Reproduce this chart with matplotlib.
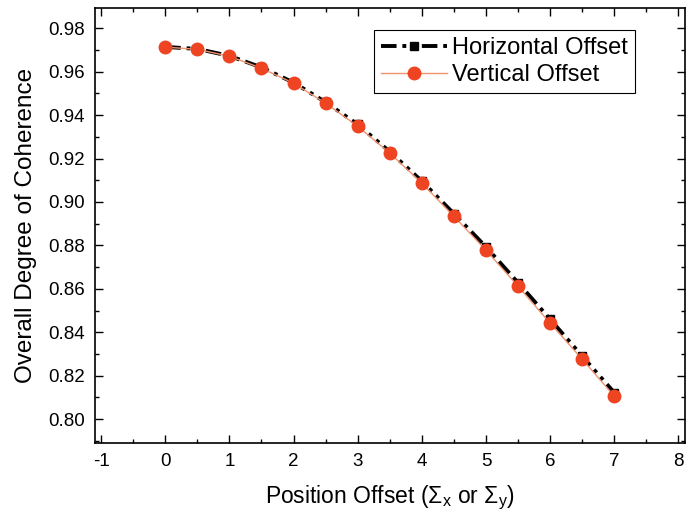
import matplotlib
matplotlib.use("Agg")
import matplotlib.pyplot as plt
from matplotlib.ticker import MultipleLocator

plt.rcParams['font.family'] = ['Liberation Sans', 'DejaVu Sans']
plt.rcParams['mathtext.fontset'] = 'custom'
plt.rcParams['mathtext.rm'] = 'Liberation Sans'
plt.rcParams['mathtext.it'] = 'Liberation Sans'
plt.rcParams['axes.unicode_minus'] = False

offset = [0, 0.5, 1, 1.5, 2, 2.5, 3, 3.5, 4, 4.5, 5, 5.5, 6, 6.5, 7]
horizontal = [0.9714, 0.9705, 0.9673, 0.9620, 0.9550, 0.9460, 0.9357, 0.9232,
              0.9096, 0.8946, 0.8793, 0.8628, 0.8460, 0.8290, 0.8122]
vertical = [0.9713, 0.9703, 0.9671, 0.9616, 0.9547, 0.9455, 0.9349, 0.9225,
            0.9087, 0.8934, 0.8778, 0.8612, 0.8442, 0.8276, 0.8106]

fig = plt.figure(figsize=(6.96, 5.17), dpi=100)
ax = fig.add_axes([0.136, 0.143, 0.848, 0.841])

ax.plot(offset, horizontal, color='black', lw=2.8, ls=(0, (4, 1.5, 1, 1.5, 1, 1.5)),
        marker='s', ms=6, label='Horizontal Offset')
ax.plot(offset, vertical, color='#f0936f', lw=1.0, marker='o', ms=9,
        mfc='#ee4422', mec='#ee4422', label='Vertical Offset')

ax.set_xlim(-1.1, 8.1)
ax.set_ylim(0.789, 0.9892)
ax.xaxis.set_major_locator(MultipleLocator(1))
ax.xaxis.set_minor_locator(MultipleLocator(0.5))
ax.yaxis.set_major_locator(MultipleLocator(0.02))
ax.yaxis.set_minor_locator(MultipleLocator(0.01))
ax.yaxis.set_major_formatter(matplotlib.ticker.FormatStrFormatter('%.2f'))
ax.tick_params(which='both', direction='in', top=True, right=True, labelsize=13.5, width=1)
ax.tick_params(which='major', length=6, pad=7)
ax.tick_params(which='minor', length=3)
for s in ax.spines.values():
    s.set_linewidth(1.2)

ax.set_xlabel(r'Position Offset ($\Sigma_\mathrm{x}$ or $\Sigma_\mathrm{y}$)', fontsize=16.5, labelpad=10)
ax.set_ylabel('Overall Degree of Coherence', fontsize=17.5, labelpad=8)

leg = ax.legend(loc='upper right', bbox_to_anchor=(0.935, 0.977), fontsize=17, fancybox=False,
                edgecolor='black', framealpha=1, handlelength=2.8, borderpad=0.3,
                labelspacing=0.2, handletextpad=0.2)
leg.get_frame().set_linewidth(0.8)

fig.savefig('out.png', dpi=100)
